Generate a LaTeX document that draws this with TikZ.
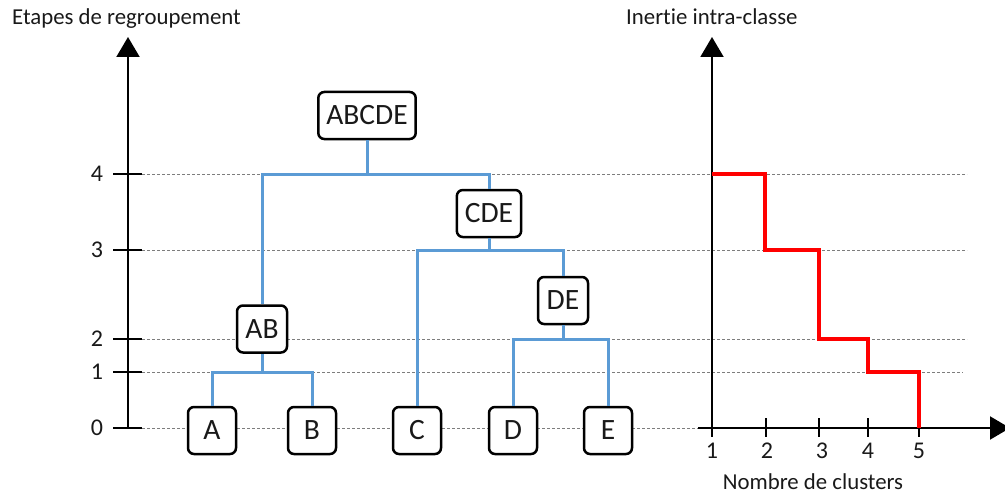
\documentclass[tikz,border=0pt]{standalone}
\usepackage{fontspec}
\setmainfont{Carlito}[Ligatures={NoCommon}]
\usetikzlibrary{arrows.meta}
\definecolor{dendro}{RGB}{91,155,213}
\definecolor{gridgray}{RGB}{125,125,125}
\definecolor{txt}{RGB}{25,25,25}
\begin{document}
\begin{tikzpicture}[x=1pt,y=-1pt,
  gridline/.style={gridgray, line width=1pt, dash pattern=on 3pt off 2pt},
  axis/.style={black, line width=2pt},
  axisarrow/.style={axis, -{Triangle[width=23pt,length=20pt]}},
  link/.style={dendro, line width=3pt},
  curve/.style={red, line width=3.5pt, line join=miter},
  box/.style={draw=black, fill=white, text=txt, rounded corners=6pt, line width=2.5pt,
    minimum width=48pt, minimum height=47pt, inner xsep=8pt, inner ysep=0pt,
    font=\fontsize{29.5}{34}\selectfont},
  ticklab/.style={text=txt, inner sep=0pt, font=\fontsize{24}{28}\selectfont},
  title/.style={text=txt, inner sep=0pt, font=\fontsize{22.8}{27}\selectfont}]
\useasboundingbox (0,0) rectangle (1005,495);
% grid lines
\foreach \yy in {174,250,339} \draw[gridline] (142,\yy) -- (967,\yy);
\draw[gridline] (142,372) -- (963,372);
\draw[gridline] (142,428) -- (698,428);
% titles
\node[title, anchor=base west] (ttlL) at (12,25) {Etapes de regroupement};
\node[title, anchor=base west] (ttlR) at (626,24.5) {Inertie intra-classe};
\node[title, anchor=base] (ttlX) at (813,489) {Nombre de clusters};
% left axis
\coordinate (yo) at (128,428);
\coordinate (ytop) at (128,37);
\draw[axisarrow] (yo) -- (ytop);
\foreach \yy/\lab in {174/4,250/3,339/2,372/1,428/0}{
  \draw[axis] (113,\yy) -- (142,\yy);
  \node[ticklab] (lab\lab) at (97,\yy) {\lab};
}
% right axes
\coordinate (ro) at (712,428);
\coordinate (rtop) at (712,37);
\coordinate (rleft) at (698,428);
\coordinate (rright) at (1010,428);
\draw[axisarrow] (ro) -- (rtop);
\draw[axisarrow] (rleft) -- (rright);
\foreach \xx/\lab/\lx in {712/1/712,766/2/767,819/3/822,868/4/868,919/5/919}{
  \draw[axis] (\xx,418) -- (\xx,437);
  \node[ticklab] (xlab\lab) at (\lx,451) {\lab};
}
% red curve
\coordinate (c0) at (712,174);
\coordinate (c5) at (919,428);
\draw[curve] (c0) -- (765,174) -- (765,250) -- (819,250) -- (819,339)
  -- (868,339) -- (868,372) -- (919,372) -- (c5);
% boxes
\node[box] (A) at (212,430.5) {A};
\node[box] (B) at (312,430.5) {B};
\node[box] (C) at (417,430.5) {C};
\node[box] (D) at (513,430.5) {D};
\node[box] (E) at (608,430.5) {E};
\node[box, minimum width=50pt] (AB) at (262,329) {AB};
\node[box, minimum width=50pt] (DE) at (563,300.5) {DE};
\node[box] (CDE) at (489,213.5) {CDE};
\node[box] (ABCDE) at (367,115.5) {ABCDE};
% junctions
\coordinate (m1) at (262,372);
\coordinate (m2) at (563,339);
\coordinate (m3) at (489,250);
\coordinate (m4) at (367,174);
% links
\draw[link] (A.north) |- (m1) -| (B.north);
\draw[link] (m1) -- (AB.south);
\draw[link] (D.north) |- (m2) -| (E.north);
\draw[link] (m2) -- (DE.south);
\draw[link] (C.north) |- (m3) -| (DE.north);
\draw[link] (m3) -- (CDE.south);
\draw[link] (AB.north) |- (m4) -| (CDE.north);
\draw[link] (m4) -- (ABCDE.south);
\end{tikzpicture}
\end{document}
